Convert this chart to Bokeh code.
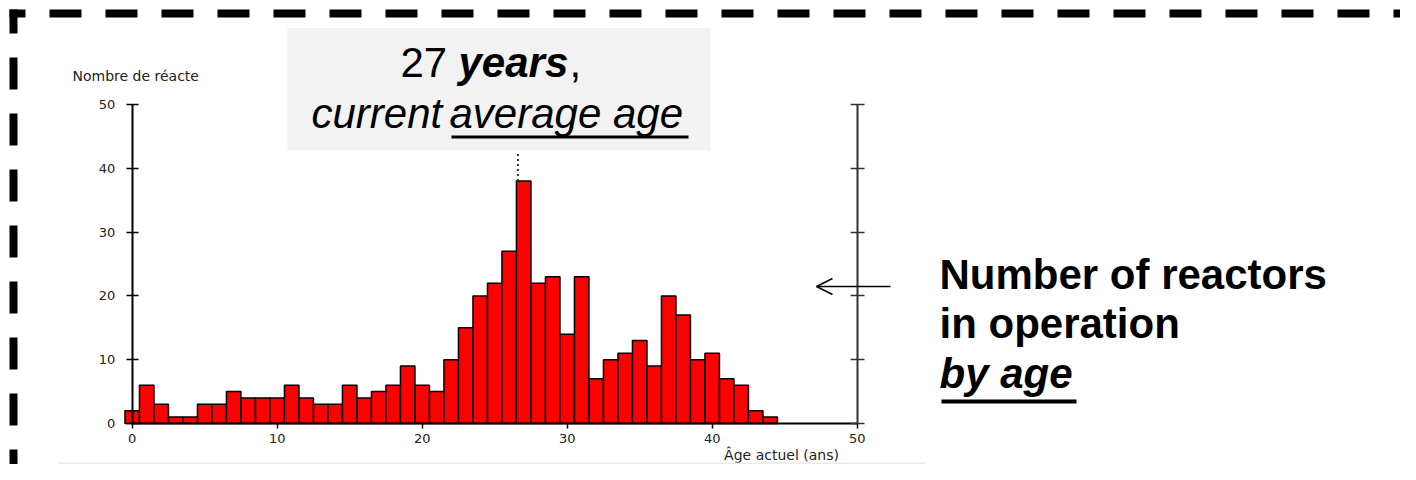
from bokeh.plotting import figure
from bokeh.models import Range1d, LinearAxis, FixedTicker, Label, Arrow, OpenHead
from bokeh.embed import file_html
from bokeh.resources import INLINE
from bokeh.core.properties import value

# ---------------- data ----------------
ages = list(range(45))
reactors = [2, 6, 3, 1, 1, 3, 3, 5, 4, 4,
            4, 6, 4, 3, 3, 6, 4, 5, 6, 9,
            6, 5, 10, 15, 20, 22, 27, 38, 22, 23,
            14, 23, 7, 10, 11, 13, 9, 20, 17, 10,
            11, 7, 6, 2, 1]
avg_age = 26.6
avg_bar_height = 38
x_ticks = [0, 10, 20, 30, 40, 50]
y_ticks = [0, 10, 20, 30, 40, 50]
axis_max = 50

# ---------------- layout helpers (picture pixel -> data) ----------------
W, H = 1400, 464
X0, SX = 131.7, 14.5     # px of age 0, px per year
Y0, SY = 423.0, 6.38     # px of count 0, px per reactor


def dx(rx):
    return (rx - X0) / SX


def dy(ry):
    return (Y0 - ry) / SY


p = figure(width=W, height=H, output_backend="svg", toolbar_location=None,
           x_range=Range1d(dx(0), dx(W)), y_range=Range1d(dy(H), dy(0)),
           x_axis_location=None, y_axis_location=None, min_border=0,
           outline_line_color=None, background_fill_color="white",
           border_fill_color="white")
p.xgrid.grid_line_color = None
p.ygrid.grid_line_color = None

TICK_FONT = "DejaVu Sans"

# left axis
yl = LinearAxis(fixed_location=0, bounds=(0, axis_max), ticker=FixedTicker(ticks=y_ticks),
                major_tick_in=6, major_tick_out=6, minor_tick_line_color=None,
                axis_line_width=2, axis_line_color="black", major_tick_line_width=1.5,
                major_label_text_font=TICK_FONT, major_label_text_font_size="13px",
                major_label_text_color="#222222", major_label_standoff=11)
p.add_layout(yl, "left")

# right axis
yr = LinearAxis(fixed_location=axis_max, bounds=(0, axis_max), ticker=FixedTicker(ticks=y_ticks),
                major_tick_in=7, major_tick_out=7, minor_tick_line_color=None,
                axis_line_width=2, axis_line_color="#333333", major_tick_line_width=1.5,
                major_tick_line_color="#333333",
                major_label_overrides={t: "" for t in y_ticks},
                major_label_text_font_size="1px")
p.add_layout(yr, "right")

# bottom axis
xb = LinearAxis(fixed_location=0, bounds=(0, axis_max), ticker=FixedTicker(ticks=x_ticks),
                major_tick_in=0, major_tick_out=5, minor_tick_line_color=None,
                axis_line_width=2, axis_line_color="black", major_tick_line_width=1.5,
                major_label_text_font=TICK_FONT, major_label_text_font_size="13px",
                major_label_text_color="#222222", major_label_standoff=5)
p.add_layout(xb, "below")

# bars
p.vbar(x=ages, top=reactors, bottom=0, width=1.0, fill_color="#ff0000",
       line_color="black", line_width=1.5)

# y-axis title (partly hidden by the callout box in the reference)
p.text(x=[dx(72)], y=[dy(75)], text=["Nombre de réacte"], text_font=value(TICK_FONT),
       text_font_size="14px", text_color="#222222", text_baseline="middle",
       text_align="left")

# x-axis title
p.text(x=[dx(781)], y=[dy(454)], text=["Âge actuel (ans)"], text_font=value(TICK_FONT),
       text_font_size="14px", text_color="#222222", text_baseline="middle",
       text_align="center")

# faint bottom edge of the chart image
p.line([dx(58), dx(925)], [dy(463), dy(463)], line_color="#ebebdf", line_width=2)

# callout box
p.quad(left=[dx(287)], right=[dx(710)], top=[dy(27.5)], bottom=[dy(150)],
       fill_color="#f2f2f2", line_color=None)

# dotted marker for the average age
p.line([avg_age, avg_age], [avg_bar_height, dy(152)], line_color="#333333",
       line_width=2, line_dash="2 3")

FONT = "Liberation Sans"
FS = "42px"
BASE_FIX = 18  # svg alphabetic-baseline compensation (px)


def lab(x, y, t, style="normal"):
    p.add_layout(Label(x=dx(x), y=dy(y - BASE_FIX), text=t, text_font=FONT,
                       text_font_size=FS, text_font_style=style, text_color="black",
                       text_baseline="alphabetic", text_align="left"))


lab(400, 80, "27")
lab(458, 80, "years", "bold italic")
lab(569, 80, ",")
lab(311, 131, "current", "italic")
lab(449, 131, "average age", "italic")
p.line([dx(451), dx(688)], [dy(136.5), dy(136.5)], line_color="black", line_width=3)

lab(939, 292, "Number of reactors", "bold")
lab(939, 341, "in operation", "bold")
lab(939, 391, "by age", "bold italic")
p.line([dx(941), dx(1076)], [dy(401), dy(401)], line_color="black", line_width=4)

# arrow pointing to the axis
p.add_layout(Arrow(end=OpenHead(size=16, line_width=1.5, line_color="black"),
                   x_start=dx(890), y_start=dy(286), x_end=dx(816), y_end=dy(286),
                   line_width=1.5, line_color="black"))

# dashed slide border
p.line([dx(9), dx(1430)], [dy(13), dy(13)], line_color="black", line_width=8,
       line_dash="32 24", line_dash_offset=16, line_cap="butt")
p.line([dx(13), dx(13)], [dy(9), dy(500)], line_color="black", line_width=8,
       line_dash="32 24", line_dash_offset=8, line_cap="butt")

open("out.html", "w").write(file_html(p, INLINE))
